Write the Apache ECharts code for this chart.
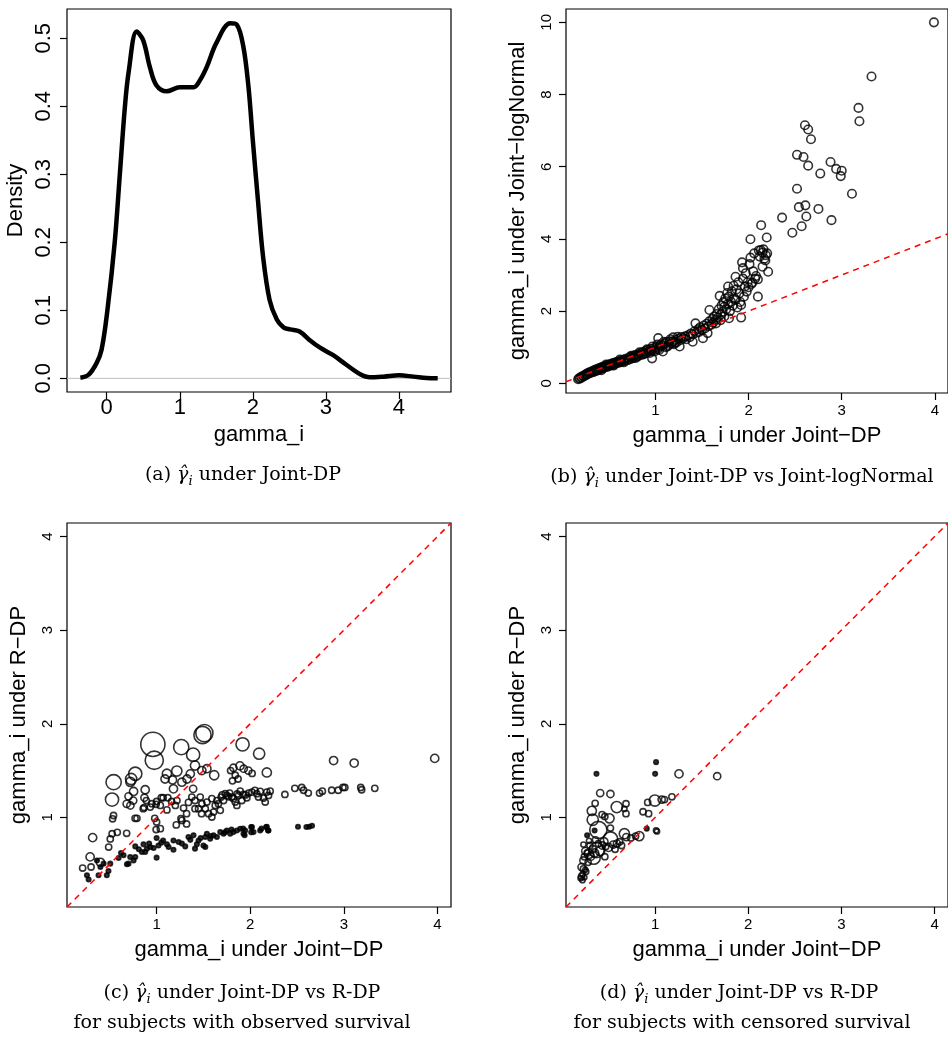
<!DOCTYPE html>
<html>
<head>
<meta charset="utf-8">
<script src="https://cdn.jsdelivr.net/npm/echarts@6/dist/echarts.min.js"></script>
<style>
  html, body { margin: 0; padding: 0; background: #fff; }
  #chart { width: 948px; height: 1037px; }
</style>
</head>
<body>
<div id="chart"></div>
<script>
// (a) density of gamma_i under Joint-DP
const densX = [-0.36, -0.25, -0.14, -0.07, 0.01, 0.11, 0.18, 0.25, 0.30, 0.41, 0.50, 0.59, 0.68, 0.82, 1.00, 1.19, 1.28, 1.37, 1.50, 1.69, 1.78, 1.87, 1.94, 2.00, 2.07, 2.14, 2.23, 2.33, 2.42, 2.51, 2.64, 2.78, 2.92, 3.10, 3.28, 3.47, 3.60, 3.79, 4.00, 4.20, 4.38, 4.53];
const densY = [0.001, 0.005, 0.022, 0.042, 0.100, 0.200, 0.300, 0.400, 0.450, 0.510, 0.497, 0.458, 0.431, 0.422, 0.428, 0.428, 0.439, 0.458, 0.493, 0.522, 0.520, 0.488, 0.429, 0.350, 0.262, 0.179, 0.115, 0.086, 0.075, 0.072, 0.069, 0.056, 0.045, 0.034, 0.020, 0.006, 0.0015, 0.0025, 0.0044, 0.0025, 0.0005, 0.0];

// (b) Joint-DP vs Joint-logNormal  [jointDP, jointLogNormal]
const logNormalPts = [
  [0.17,0.11],[0.18,0.14],[0.19,0.13],[0.20,0.17],[0.21,0.16],[0.22,0.20],[0.23,0.19],[0.24,0.23],[0.25,0.22],[0.26,0.26],
  [0.27,0.25],[0.28,0.29],[0.29,0.27],[0.30,0.31],[0.31,0.29],[0.32,0.33],[0.33,0.31],[0.34,0.36],[0.35,0.33],[0.36,0.38],
  [0.37,0.35],[0.38,0.40],[0.39,0.37],[0.40,0.42],[0.41,0.39],[0.42,0.44],[0.43,0.41],[0.44,0.46],[0.45,0.43],[0.46,0.47],
  [0.47,0.45],[0.48,0.50],[0.49,0.46],[0.50,0.52],[0.51,0.49],[0.52,0.53],[0.53,0.50],[0.54,0.55],[0.55,0.52],[0.56,0.57],
  [0.57,0.54],[0.58,0.59],[0.60,0.56],[0.61,0.61],[0.62,0.58],[0.63,0.63],[0.64,0.60],[0.66,0.65],[0.67,0.62],[0.68,0.68],
  [0.70,0.64],[0.71,0.70],[0.72,0.66],[0.73,0.73],[0.75,0.69],[0.76,0.75],[0.77,0.71],[0.78,0.78],[0.80,0.74],[0.81,0.80],
  [0.82,0.76],[0.84,0.83],[0.85,0.79],[0.86,0.86],[0.88,0.82],[0.89,0.89],[0.90,0.84],[0.92,0.92],[0.93,0.87],[0.95,0.95],
  [0.96,0.90],[0.964,0.69],[0.98,0.97],[1.00,0.93],[1.01,1.00],[1.03,1.25],[1.03,0.96],[1.05,1.02],[1.06,1.08],[1.08,0.88],
  [0.42,0.36],[0.47,0.52],[0.55,0.49],[0.62,0.66],[0.66,0.58],[0.74,0.76],[0.79,0.70],[0.83,0.86],[0.87,0.80],[0.91,0.94],
  [0.94,0.84],[0.97,1.02],[0.99,0.88],[1.02,1.07],[1.04,0.92],[1.09,1.15],[1.13,1.02],[1.16,1.22],[1.21,1.12],[1.24,1.29],
  [1.08,1.04],[1.10,1.10],[1.11,1.00],[1.12,1.14],[1.14,1.06],[1.15,1.16],[1.17,1.10],[1.19,1.27],[1.19,1.16],[1.20,1.08],
  [1.22,1.20],[1.23,1.14],[1.25,1.24],[1.26,1.02],[1.27,1.20],[1.28,1.28],[1.30,1.25],[1.32,1.30],[1.33,1.22],[1.35,1.33],
  [1.37,1.28],[1.38,1.38],[1.40,1.15],[1.40,1.35],[1.42,1.44],[1.43,1.66],[1.44,1.40],[1.46,1.50],[1.47,1.42],[1.48,1.55],
  [1.50,1.48],[1.51,1.25],[1.52,1.60],[1.53,1.52],[1.55,1.65],[1.56,1.39],[1.57,1.58],[1.58,2.03],[1.58,1.72],[1.60,1.62],
  [1.61,1.78],[1.62,1.68],[1.63,1.85],[1.65,1.66],[1.65,1.76],[1.66,1.92],[1.67,1.82],[1.68,2.05],[1.69,2.42],[1.70,1.90],
  [1.70,1.75],[1.71,2.15],[1.72,1.98],[1.73,2.25],[1.74,2.12],[1.74,1.85],[1.75,2.35],[1.76,2.05],[1.77,2.50],[1.78,2.68],
  [1.78,2.20],[1.79,1.80],[1.79,2.40],[1.80,2.00],[1.81,2.26],[1.82,2.55],[1.83,2.15],[1.84,2.70],[1.85,2.35],[1.86,2.95],
  [1.86,2.31],[1.87,2.60],[1.88,2.10],[1.89,2.80],[1.90,2.49],[1.91,2.25],[1.92,1.82],[1.92,2.17],[1.93,3.35],[1.94,3.19],
  [1.94,2.90],[1.95,2.40],[1.96,2.68],[1.97,3.05],[1.98,2.54],[1.99,2.80],[2.00,2.66],[2.01,3.30],[2.02,3.48],[2.02,3.99],
  [2.03,2.75],[2.04,2.79],[2.05,3.10],[2.06,3.60],[2.07,2.90],[2.08,2.97],[2.10,2.88],[2.10,2.40],[2.11,3.68],[2.12,3.51],
  [2.13,3.69],[2.135,4.38],[2.15,3.62],[2.15,3.23],[2.16,3.71],[2.17,3.45],[2.18,3.40],[2.185,3.55],[2.195,4.04],[2.20,3.60],
  [2.21,3.09],[2.36,4.59],[2.47,4.17],[2.52,5.39],[2.54,4.88],[2.57,4.35],[2.61,4.93],[2.62,4.62],[2.75,4.83],[2.89,4.52],
  [2.52,6.33],[2.59,6.27],[2.64,6.03],[2.605,7.15],[2.64,7.03],[2.67,6.76],[2.77,5.81],[2.88,6.13],[2.94,5.94],[3.00,5.89],
  [2.99,5.74],[3.11,5.25],[3.18,7.63],[3.19,7.26],[3.32,8.50],[3.99,10.0]
];

// (c) observed survival  [jointDP, rDP, weight]
const observedPts = [
  [0.96,1.78,23],[0.975,1.61,17],[1.49,1.88,16],[1.51,1.90,16],[1.263,1.75,14],[1.39,1.67,12],[1.918,1.78,12],[2.095,1.68,10],
  [2.177,1.48,8],[0.541,1.376,14],[0.524,1.19,12],[0.772,1.466,12],[0.728,1.41,10],[0.72,1.38,8],[1.11,1.466,8],[1.216,1.495,9],
  [1.09,1.41,7],[1.17,1.40,7],[1.41,1.554,8],[1.483,1.50,7],[1.537,1.52,7],[1.615,1.45,8],[1.36,1.465,7],[1.325,1.41,7],
  [1.27,1.376,7],[1.18,1.305,7],[1.39,1.305,6],[1.82,1.53,6],[1.89,1.55,7],[1.93,1.52,6],[1.98,1.50,6],[1.79,1.50,5],
  [1.84,1.45,5],[1.87,1.41,5],[1.81,1.39,5],[2.02,1.47,5],[0.878,1.295,7],[0.754,1.277,7],[0.70,1.225,6],[0.75,1.18,6],
  [0.87,1.21,6],[0.68,1.145,6],[0.72,1.127,6],[0.54,1.02,5],[0.53,0.985,5],[0.77,0.99,5],[0.79,0.99,5],[0.58,0.84,5],
  [0.525,0.826,5],[0.317,0.784,7],[0.68,0.83,5],[0.29,0.578,7],[0.40,0.52,7],[0.21,0.459,5],[0.30,0.47,5],[0.488,0.683,5],
  [0.505,0.77,5],[1.26,0.986,5],[1.32,0.93,5],[1.21,0.92,5],[0.995,0.87,5],[1.0,0.95,5],[1.04,0.88,5],[0.98,0.99,5],
  [0.857,1.093,5],[0.89,1.18,5],[0.995,1.14,5],[1.05,1.21,5],
  [0.866,1.105,5],[0.932,1.11,5],[1.0,1.17,5],[1.07,1.21,5],[1.12,1.21,5],[1.16,1.17,5],[1.11,1.08,5],[1.217,1.18,5],
  [1.288,1.10,5],[1.34,1.16,5],[1.41,1.18,5],[1.466,1.217,5],[1.484,1.146,5],[1.52,1.093,5],[1.537,1.164,5],[1.59,1.20,5],
  [1.608,1.057,5],[1.68,1.075,5],[1.66,1.146,5],[1.715,1.18,5],[1.75,1.235,5],[1.804,1.217,5],[1.84,1.164,5],[1.875,1.235,5],
  [1.893,1.28,5],[1.964,1.21,5],[2.018,1.27,5],[2.07,1.253,5],[2.106,1.278,5],[2.142,1.207,5],[2.177,1.27,5],[2.195,1.235,5],
  [1.448,1.093,5],[1.555,1.04,5],[1.59,1.004,5],[1.48,1.04,5],[1.626,1.128,5],[1.69,1.217,5],[1.733,1.253,5],[1.78,1.26,5],
  [1.82,1.20,5],[1.857,1.128,5],[1.91,1.18,5],[1.928,1.245,5],[1.982,1.26,5],[2.05,1.288,5],[2.088,1.217,5],[2.16,1.164,5],
  [2.213,1.28,5],[0.95,1.146,5],[1.04,1.128,5],[1.20,1.128,5],[1.376,1.217,5],[1.32,1.04,5],[1.27,0.968,5],[1.41,1.093,5],
  [1.644,1.18,5],[1.70,1.24,5],[1.77,1.22,5],[1.86,1.25,5],[1.95,1.24,5],
  [2.37,1.245,5],[2.476,1.31,5],[2.55,1.32,5],[2.57,1.29,5],[2.62,1.26,5],[2.74,1.26,5],[2.77,1.28,5],[2.87,1.29,5],
  [2.94,1.29,5],[2.99,1.32,5],[3.01,1.32,5],[3.18,1.32,5],[3.19,1.295,5],[3.33,1.31,5],[2.89,1.607,7],[3.11,1.58,7],[3.97,1.63,7],
  [0.256,0.382,3],[0.274,0.336,3],[0.38,0.382,3],[0.468,0.382,3],[0.486,0.428,3],[0.505,0.506,3],[0.594,0.566,3],[0.647,0.595,3],
  [0.70,0.506,3],[0.718,0.577,3],[0.772,0.577,3],[0.772,0.69,3],[0.86,0.712,3],[0.896,0.666,3],[0.878,0.63,3],[0.932,0.683,3],
  [1.0,0.57,3],[1.02,0.70,3],[1.07,0.754,3],[1.11,0.712,3],[1.128,0.683,3],[1.18,0.655,3],[1.18,0.754,3],[1.235,0.737,3],
  [1.27,0.72,3],[1.306,0.69,3],[1.34,0.79,3],[1.394,0.808,3],[1.43,0.712,3],[1.448,0.754,3],[1.50,0.70,3],[1.52,0.79,3],
  [1.537,0.826,3],[1.572,0.772,3],[1.608,0.808,3],[1.644,0.79,3],[1.68,0.843,3],[1.715,0.826,3],[1.75,0.86,3],[1.786,0.826,3],
  [1.82,0.843,3],[1.857,0.86,3],[1.893,0.879,3],[1.928,0.826,3],[1.946,0.86,3],[2.018,0.897,3],[2.035,0.843,3],[2.106,0.86,3],
  [2.177,0.90,3],[2.195,0.86,3],[1.52,0.683,3],[1.41,0.666,3],[1.0,0.78,3],[0.843,0.63,3],[0.968,0.673,3],[0.683,0.50,3],
  [0.754,0.54,3],[0.40,0.47,3],[0.434,0.506,3],[0.363,0.54,3],[1.924,0.88,3],[1.94,0.81,3],[2.01,0.897,3],[2.01,0.84,3],
  [2.12,0.88,3],[2.17,0.897,3],[2.19,0.86,3],[2.51,0.90,3],[2.60,0.897,3],[2.63,0.90,3],[2.66,0.91,3],[1.05,0.73,3],
  [1.36,0.76,3],[1.47,0.78,3],[1.58,0.80,3],[1.73,0.84,3],[1.80,0.87,3],[0.92,0.72,3],[0.81,0.66,3],[0.62,0.62,3]
];

// (d) censored survival  [jointDP, rDP, weight]
const censoredPts = [
  [1.01,1.59,3],[1.0,1.465,3],[0.37,1.465,3],[0.91,0.88,3],[0.35,0.86,3],[0.27,0.81,3],
  [1.256,1.465,7],[1.666,1.44,6],[0.41,1.26,6],[0.52,1.25,6],[0.356,1.15,5],[0.32,1.07,8],[0.588,1.11,10],[0.687,1.146,5],
  [0.67,1.09,4],[0.687,1.04,5],[0.33,0.975,10],[0.43,1.03,5],[0.51,0.99,8],[0.46,1.01,5],[0.39,0.866,16],[0.52,0.886,5],
  [0.997,1.18,10],[1.07,1.19,6],[1.10,1.19,5],[1.18,1.22,5],[0.92,1.16,5],[0.87,1.06,5],[0.93,1.04,5],[1.01,0.86,4],
  [1.02,0.85,4],[0.83,0.80,8],[0.79,0.80,5],[0.74,0.78,5],[0.67,0.826,9],[0.69,0.79,6],[0.52,0.77,13],[0.45,0.74,7],
  [0.36,0.76,5],[0.29,0.75,4],[0.23,0.71,4],[0.37,0.65,14],[0.34,0.57,12],[0.29,0.61,8],[0.41,0.64,8],[0.50,0.68,7],
  [0.25,0.64,6],[0.23,0.54,6],[0.21,0.47,6],[0.21,0.37,5],[0.22,0.39,4],[0.20,0.35,4],[0.25,0.44,4],[0.30,0.70,5],
  [0.46,0.58,5],[0.59,0.72,6],[0.57,0.66,5],[0.27,0.62,5],[0.31,0.58,6],[0.33,0.66,6],[0.28,0.52,5],[0.24,0.58,5],
  [0.35,0.62,7],[0.43,0.70,6],[0.39,0.72,5],[0.47,0.69,5],[0.55,0.71,6],[0.62,0.74,5],[0.64,0.70,5],[0.26,0.42,4],
  [0.23,0.45,5],[0.22,0.33,4],[0.24,0.36,4]
];

// axis limits and ticks
const aXLim = [-0.543, 4.712], aYLim = [-0.0201, 0.5431];
const bXLim = [0.04, 4.141], bYLim = [-0.27, 10.37];
const cdLim = [0.043, 4.144];
const aXTicks = [0, 1, 2, 3, 4];
const aYTicks = [0, 0.1, 0.2, 0.3, 0.4, 0.5];
const bYTicks = [0, 2, 4, 6, 8, 10];
const gTicks = [1, 2, 3, 4];

const SANS = 'Liberation Sans';
const SERIF = 'DejaVu Serif';

function axis(gridIndex, lim, ticks, opts) {
  const isY = opts.y;
  return {
    type: 'value', gridIndex: gridIndex, min: lim[0], max: lim[1],
    name: opts.name, nameLocation: 'middle', nameGap: opts.nameGap,
    nameTextStyle: { fontFamily: SANS, fontSize: 22, color: '#000' },
    splitLine: { show: false },
    axisLine: { show: false, onZero: false },
    axisTick: { show: true, inside: false, length: 7, customValues: ticks, lineStyle: { color: '#000', width: 1.2 } },
    axisLabel: {
      customValues: ticks, fontFamily: SANS, fontSize: opts.fs, color: '#000',
      margin: opts.margin, rotate: isY ? 90 : 0,
      formatter: opts.fmt || (v => String(v))
    }
  };
}

// marker size from the weight column; the smallest ones come out as solid dots
const markSize = v => (v[2] <= 3 ? 4.5 : v[2] + 1.2);
const circleStyle = {
  color: p => (Array.isArray(p.value) && p.value[2] <= 3 ? '#000' : 'rgba(0,0,0,0)'),
  borderColor: '#000', borderWidth: 1.6
};
const dashStyle = { color: '#ff0000', width: 1.5, type: [6, 5] };

const grids = [
  { left: 67, top: 9, width: 384, height: 383 },
  { left: 566, top: 9, width: 385, height: 384 },
  { left: 67, top: 523, width: 384, height: 384 },
  { left: 566, top: 523, width: 385, height: 384 }
].map(g => Object.assign({ show: true, borderColor: '#000', borderWidth: 1.2, backgroundColor: 'transparent' }, g));

const richCap = {
  g: { fontFamily: SERIF, fontStyle: 'italic', fontSize: 19, lineHeight: 26 },
  s: { fontFamily: SERIF, fontStyle: 'italic', fontSize: 13, lineHeight: 14, verticalAlign: 'bottom' },
  t: { fontFamily: SERIF, fontSize: 19, lineHeight: 26 }
};
function caption(x, y, text) {
  return {
    type: 'text', x: x, y: y,
    style: { text: text, rich: richCap, fontFamily: SERIF, fontSize: 19, fill: '#000', align: 'center', verticalAlign: 'middle' }
  };
}

const option = {
  animation: false,
  grid: grids,
  xAxis: [
    axis(0, aXLim, aXTicks, { name: 'gamma_i', nameGap: 32, fs: 22, margin: 5 }),
    axis(1, bXLim, gTicks, { name: 'gamma_i under Joint\u2212DP', nameGap: 32, fs: 15, margin: 10 }),
    axis(2, cdLim, gTicks, { name: 'gamma_i under Joint\u2212DP', nameGap: 32, fs: 15, margin: 10 }),
    axis(3, cdLim, gTicks, { name: 'gamma_i under Joint\u2212DP', nameGap: 32, fs: 15, margin: 10 })
  ],
  yAxis: [
    axis(0, aYLim, aYTicks, { y: true, name: 'Density', nameGap: 40, fs: 22, margin: 12, fmt: v => v.toFixed(1) }),
    axis(1, bYLim, bYTicks, { y: true, name: 'gamma_i under Joint\u2212logNormal', nameGap: 37, fs: 15, margin: 12 }),
    axis(2, cdLim, gTicks, { y: true, name: 'gamma_i under R\u2212DP', nameGap: 37, fs: 15, margin: 12 }),
    axis(3, cdLim, gTicks, { y: true, name: 'gamma_i under R\u2212DP', nameGap: 37, fs: 15, margin: 12 })
  ],
  series: [
    {
      type: 'line', xAxisIndex: 0, yAxisIndex: 0, silent: true, symbol: 'none', z: 1,
      data: [[aXLim[0], 0], [aXLim[1], 0]],
      lineStyle: { color: '#bebebe', width: 1 }
    },
    {
      type: 'line', xAxisIndex: 0, yAxisIndex: 0, silent: true, symbol: 'none', smooth: 0.35, z: 3,
      data: densX.map((x, i) => [x, densY[i]]),
      lineStyle: { color: '#000', width: 4.5 }
    },
    {
      type: 'scatter', xAxisIndex: 1, yAxisIndex: 1, silent: true, symbol: 'circle', symbolSize: 8.5,
      data: logNormalPts, itemStyle: { color: 'rgba(0,0,0,0)', borderColor: '#000', borderWidth: 1.6 }
    },
    {
      type: 'line', xAxisIndex: 1, yAxisIndex: 1, silent: true, symbol: 'none', z: 5,
      data: [[bXLim[0], bXLim[0]], [bXLim[1], bXLim[1]]], lineStyle: dashStyle
    },
    {
      type: 'scatter', xAxisIndex: 2, yAxisIndex: 2, silent: true, symbol: 'circle',
      symbolSize: markSize, data: observedPts, itemStyle: circleStyle
    },
    {
      type: 'line', xAxisIndex: 2, yAxisIndex: 2, silent: true, symbol: 'none', z: 5,
      data: [[cdLim[0], cdLim[0]], [cdLim[1], cdLim[1]]], lineStyle: dashStyle
    },
    {
      type: 'scatter', xAxisIndex: 3, yAxisIndex: 3, silent: true, symbol: 'circle',
      symbolSize: markSize, data: censoredPts, itemStyle: circleStyle
    },
    {
      type: 'line', xAxisIndex: 3, yAxisIndex: 3, silent: true, symbol: 'none', z: 5,
      data: [[cdLim[0], cdLim[0]], [cdLim[1], cdLim[1]]], lineStyle: dashStyle
    }
  ],
  graphic: [
    caption(243, 475, '{t|(a) }{g|\u03b3\u0302}{s|i}{t| under Joint-DP}'),
    caption(742, 477, '{t|(b) }{g|\u03b3\u0302}{s|i}{t| under Joint-DP vs Joint-logNormal}'),
    caption(242, 993, '{t|(c) }{g|\u03b3\u0302}{s|i}{t| under Joint-DP vs R-DP}'),
    caption(242, 1023, '{t|for subjects with observed survival}'),
    caption(739, 993, '{t|(d) }{g|\u03b3\u0302}{s|i}{t| under Joint-DP vs R-DP}'),
    caption(742, 1023, '{t|for subjects with censored survival}')
  ]
};

const chart = echarts.init(document.getElementById('chart'), null, { renderer: 'canvas' });
chart.setOption(option);
</script>
</body>
</html>
